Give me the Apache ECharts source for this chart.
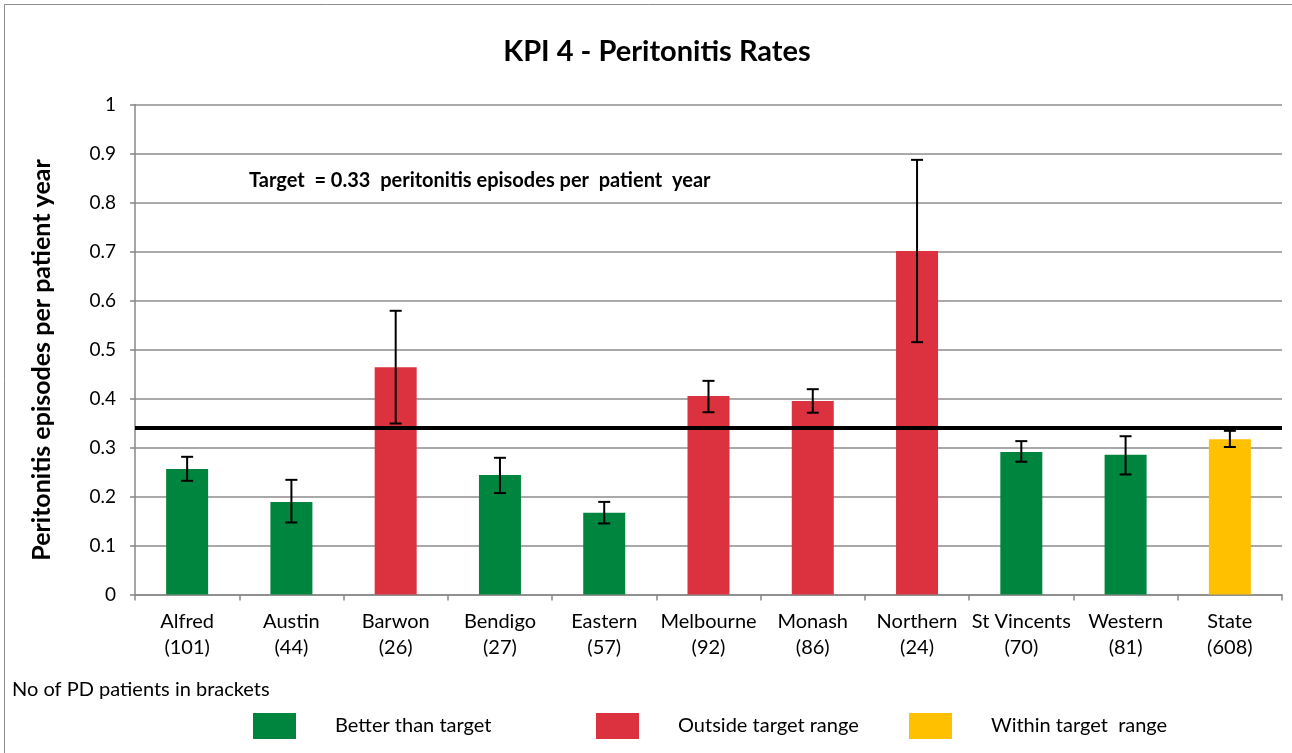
<!DOCTYPE html>
<html>
<head>
<meta charset="utf-8">
<title>KPI 4 - Peritonitis Rates</title>
<script src="https://cdn.jsdelivr.net/npm/echarts@6/dist/echarts.min.js"></script>
<style>
  html, body { margin: 0; padding: 0; background: #fff; }
  #chart { width: 1292px; height: 753px; }
</style>
</head>
<body>
<div id="chart"></div>
<script>
// units and number of PD patients
const categories = ['Alfred', 'Austin', 'Barwon', 'Bendigo', 'Eastern', 'Melbourne', 'Monash', 'Northern', 'St Vincents', 'Western', 'State'];
const patients = [101, 44, 26, 27, 57, 92, 86, 24, 70, 81, 608];
// peritonitis episodes per patient year
const rates = [0.256, 0.189, 0.464, 0.244, 0.167, 0.405, 0.395, 0.701, 0.291, 0.285, 0.317];
// confidence interval (error bars)
const errLow = [0.232, 0.147, 0.349, 0.207, 0.145, 0.372, 0.371, 0.515, 0.271, 0.245, 0.301];
const errHigh = [0.281, 0.234, 0.579, 0.279, 0.189, 0.436, 0.419, 0.887, 0.313, 0.323, 0.334];
const status = ['better', 'better', 'outside', 'better', 'better', 'outside', 'outside', 'outside', 'better', 'better', 'within'];
const targetLine = 0.338;
const yTicks = [0, 0.1, 0.2, 0.3, 0.4, 0.5, 0.6, 0.7, 0.8, 0.9, 1];

const groups = [
  { key: 'better', name: 'Better than target', color: '#00853E', legendLeft: 253 },
  { key: 'outside', name: 'Outside target range', color: '#DC323F', legendLeft: 596 },
  { key: 'within', name: 'Within target  range', color: '#FFC000', legendLeft: 909 }
];

const FONT = 'Lato, "Open Sans", sans-serif';

const chart = echarts.init(document.getElementById('chart'));

const barSeries = groups.map((g, gi) => ({
  name: g.name,
  type: 'bar',
  stack: 'rate',
  barWidth: 42,
  itemStyle: { color: g.color },
  data: rates.map((v, i) => status[i] === g.key ? v : '-'),
  markLine: gi === 0 ? {
    silent: true,
    symbol: 'none',
    label: { show: false },
    lineStyle: { color: '#000', width: 4, type: 'solid' },
    data: [{ yAxis: targetLine }]
  } : undefined
}));

const errorSeries = {
  type: 'custom',
  name: 'error',
  z: 10,
  data: categories.map((c, i) => [i, errLow[i], errHigh[i]]),
  encode: { x: 0, y: [1, 2] },
  renderItem (params, api) {
    const x = api.value(0);
    const lo = api.coord([x, api.value(1)]);
    const hi = api.coord([x, api.value(2)]);
    const half = 6;
    const style = { stroke: '#000', lineWidth: 2 };
    return {
      type: 'group',
      children: [
        { type: 'line', shape: { x1: hi[0], y1: hi[1], x2: lo[0], y2: lo[1] }, style },
        { type: 'line', shape: { x1: hi[0] - half, y1: hi[1], x2: hi[0] + half, y2: hi[1] }, style },
        { type: 'line', shape: { x1: lo[0] - half, y1: lo[1], x2: lo[0] + half, y2: lo[1] }, style }
      ]
    };
  }
};

const option = {
  animation: false,
  textStyle: { fontFamily: FONT },
  grid: { left: 135, right: 10, top: 104.5, bottom: 158.5 },
  legend: groups.map(g => ({
    data: [g.name],
    left: g.legendLeft,
    top: 713,
    padding: 0,
    icon: 'rect',
    itemWidth: 43,
    itemHeight: 26,
    selectedMode: false,
    textStyle: { fontFamily: FONT, fontSize: 20, color: '#000', padding: [0, 0, 0, 34] }
  })),
  xAxis: {
    type: 'category',
    data: categories,
    axisLine: { lineStyle: { color: '#888', width: 1.5 } },
    axisTick: { show: true, length: 6, lineStyle: { color: '#888', width: 1.5 } },
    axisLabel: {
      color: '#000',
      fontSize: 20,
      lineHeight: 26,
      margin: 14,
      interval: 0,
      formatter: (v, i) => v + '\n(' + patients[i] + ')'
    }
  },
  yAxis: {
    type: 'value',
    min: 0,
    max: 1,
    interval: 0.1,
    axisLine: { show: true, lineStyle: { color: '#888', width: 1.5 } },
    axisTick: { show: true, length: 5, lineStyle: { color: '#888', width: 1.5 } },
    axisLabel: {
      color: '#000',
      fontSize: 19,
      margin: 19,
      formatter: v => yTicks.includes(+v.toFixed(1)) ? String(+v.toFixed(1)) : ''
    },
    splitLine: { lineStyle: { color: '#8c8c8c', width: 1.5 } }
  },
  graphic: [
    {
      type: 'rect', silent: true, z: -1,
      shape: { x: 4.5, y: 4.5, width: 1300, height: 800 },
      style: { fill: 'none', stroke: '#8c8c8c', lineWidth: 1 }
    },
    {
      type: 'text', x: 657, y: 52,
      style: { text: 'KPI 4 - Peritonitis Rates', fontFamily: FONT, fontWeight: 'bold', fontSize: 29, fill: '#000', textAlign: 'center', textVerticalAlign: 'middle' }
    },
    {
      type: 'text', x: 42, y: 360, rotation: Math.PI / 2,
      style: { text: 'Peritonitis episodes per patient year', fontFamily: FONT, fontWeight: 'bold', fontSize: 25, fill: '#000', textAlign: 'center', textVerticalAlign: 'middle' }
    },
    {
      type: 'text', x: 249, y: 181, z: 20,
      style: { text: 'Target  = 0.33  peritonitis episodes per  patient  year', fontFamily: FONT, fontWeight: 'bold', fontSize: 20, fill: '#000', textAlign: 'left', textVerticalAlign: 'middle' }
    },
    {
      type: 'text', x: 12, y: 690,
      style: { text: 'No of PD patients in brackets', fontFamily: FONT, fontSize: 20, fill: '#000', textAlign: 'left', textVerticalAlign: 'middle' }
    }
  ],
  series: [...barSeries, errorSeries]
};

chart.setOption(option);
</script>
</body>
</html>
